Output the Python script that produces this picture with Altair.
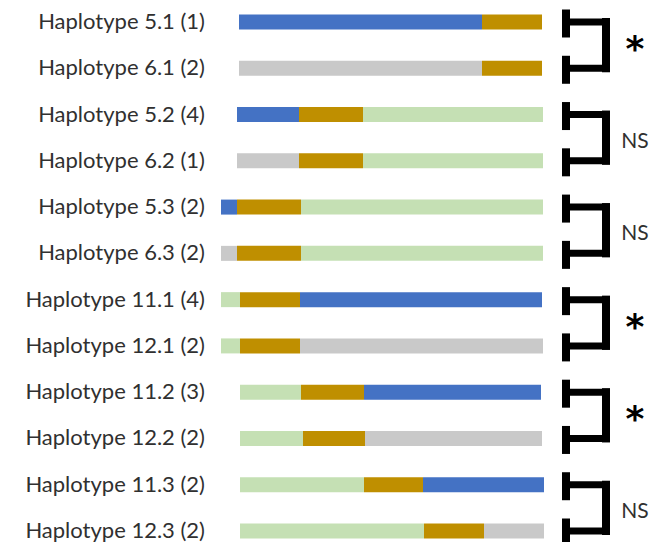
import altair as alt
import pandas as pd

labels = ["Haplotype 5.1 (1)", "Haplotype 6.1 (2)", "Haplotype 5.2 (4)", "Haplotype 6.2 (1)",
          "Haplotype 5.3 (2)", "Haplotype 6.3 (2)", "Haplotype 11.1 (4)", "Haplotype 12.1 (2)",
          "Haplotype 11.2 (3)", "Haplotype 12.2 (2)", "Haplotype 11.3 (2)", "Haplotype 12.3 (2)"]

seg_types = [
    ["blue", "gold"],
    ["gray", "gold"],
    ["blue", "gold", "green"],
    ["gray", "gold", "green"],
    ["blue", "gold", "green"],
    ["gray", "gold", "green"],
    ["green", "gold", "blue"],
    ["green", "gold", "gray"],
    ["green", "gold", "blue"],
    ["green", "gold", "gray"],
    ["green", "gold", "blue"],
    ["green", "gold", "gray"],
]
seg_bounds = [
    [18, 261, 321],
    [18, 261, 321],
    [16, 78, 142, 322],
    [16, 78, 142, 322],
    [0, 16, 80, 322],
    [0, 16, 80, 322],
    [0, 19, 79, 321],
    [0, 19, 79, 322],
    [19, 80, 143, 320],
    [19, 82, 144, 321],
    [19, 143, 202, 323],
    [19, 203, 263, 323],
]
pair_labels = ["*", "NS", "NS", "*", "*", "NS"]

type_names = ["blue", "gold", "gray", "green"]
type_colors = ["#4472C4", "#BF8F00", "#C9C9C9", "#C5E0B4"]

rows = []
for lab, types, b in zip(labels, seg_types, seg_bounds):
    for i, t in enumerate(types):
        rows.append({"label": lab, "type": t, "start": b[i], "end": b[i + 1]})
seg_df = pd.DataFrame(rows)
label_df = pd.DataFrame({"label": labels})
pair_df = pd.DataFrame({
    "top": labels[0::2],
    "bottom": labels[1::2],
    "sig": pair_labels,
})
star_df = pair_df[pair_df["sig"] == "*"]
ns_df = pair_df[pair_df["sig"] != "*"]

yscale = alt.Scale(type="point", domain=labels, range=[14, 523], padding=0)
xscale = alt.Scale(domain=[0, 330], range=[213, 543])

bars = alt.Chart(seg_df).mark_bar(size=15).encode(
    x=alt.X("start:Q", scale=xscale, axis=None),
    x2="end:Q",
    y=alt.Y("label:N", scale=yscale, axis=None),
    color=alt.Color("type:N", scale=alt.Scale(domain=type_names, range=type_colors), legend=None),
)

texts = alt.Chart(label_df).mark_text(align="right", baseline="middle", font="Lato",
                                      fontSize=22, color="#303030").encode(
    x=alt.value(197),
    y=alt.Y("label:N", scale=yscale, axis=None),
    text="label:N",
)

ticks = alt.Chart(label_df).mark_bar(size=28, color="black", yOffset=1.5).encode(
    x=alt.value(554), x2=alt.value(562),
    y=alt.Y("label:N", scale=yscale, axis=None),
)

hlines = alt.Chart(label_df).mark_bar(size=7, color="black").encode(
    x=alt.value(558), x2=alt.value(602),
    y=alt.Y("label:N", scale=yscale, axis=None),
)

vlines = alt.Chart(pair_df).mark_rule(strokeWidth=8, color="black", strokeCap="square").encode(
    x=alt.value(598),
    y=alt.Y("top:N", scale=yscale, axis=None),
    y2="bottom:N",
)

stars = alt.Chart(star_df).mark_text(align="center", baseline="middle", font="DejaVu Sans",
                                     fontWeight="bold", fontSize=36, color="black", dy=28).encode(
    x=alt.value(627),
    y=alt.Y("top:N", scale=yscale, axis=None),
    text="sig:N",
)

ns = alt.Chart(ns_df).mark_text(align="center", baseline="middle", font="Lato",
                                fontSize=21, color="#303030", dy=27).encode(
    x=alt.value(627),
    y=alt.Y("top:N", scale=yscale, axis=None),
    text="sig:N",
)

chart = alt.layer(bars, texts, ticks, hlines, vlines, stars, ns).properties(
    width=643, height=534, autosize=alt.AutoSizeParams(type="none"), padding=0,
).configure_view(stroke=None)

chart.save("out.html", embed_options={"renderer": "svg", "actions": False})
